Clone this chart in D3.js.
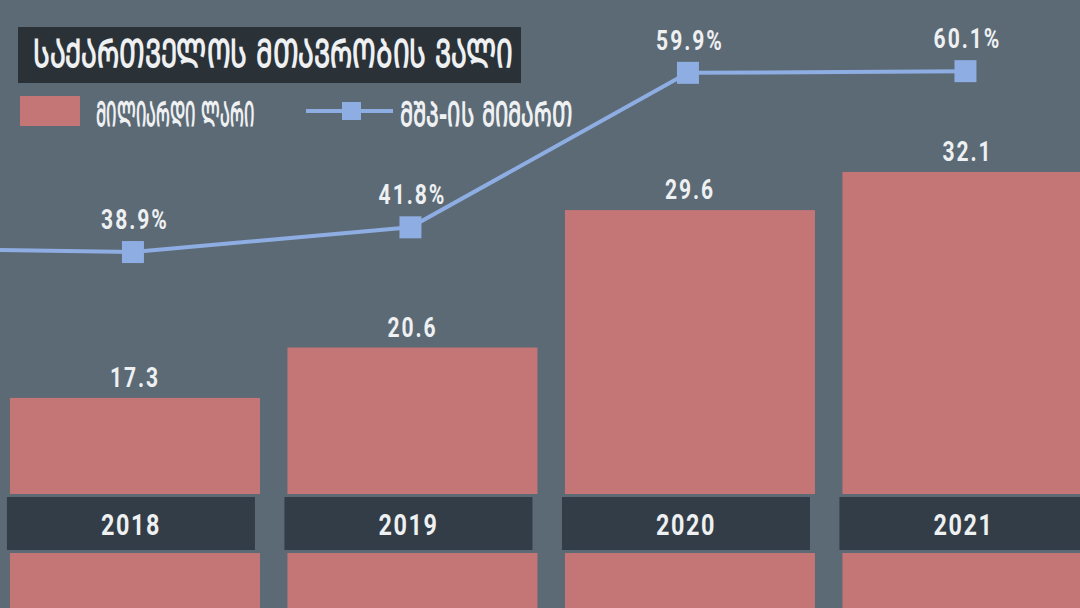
<!DOCTYPE html>
<html>
<head>
<meta charset="utf-8">
<script src="https://cdn.jsdelivr.net/npm/d3@7"></script>
<style>
  html, body { margin: 0; padding: 0; background: #5c6a76; }
  svg { display: block; }
</style>
</head>
<body>
<svg id="chart" width="1080" height="608"></svg>
<script>
// ---- data ----
const titleText = "საქართველოს მთავრობის ვალი";
const legendBars = "მილიარდი ლარი";
const legendLine = "მშპ-ის მიმართ";
const allYears = ["2017", "2018", "2019", "2020", "2021"];
const barYears = ["2018", "2019", "2020", "2021"];
const debtBn = [17.3, 20.6, 29.6, 32.1];
const lineYears = ["2017", "2018", "2019", "2020", "2021"];
const debtPctGdp = [39.4, 38.9, 41.8, 59.9, 60.1];
const labelledPctYears = ["2018", "2019", "2020", "2021"];

// ---- style ----
const C = {
  bg: "#5c6a76", bar: "#c47676", yearBox: "#323d47", titleBox: "#2a3238",
  line: "#8eade2", text: "#eef0f2"
};
const numFont = "Roboto, 'DejaVu Sans', sans-serif";
const geoFont = "'DejaVu Sans', sans-serif";
const toMtavruli = s => s.replace(/[\u10D0-\u10FA]/g, c => String.fromCharCode(c.charCodeAt(0) + 0xBC0));
const SX = 0.78; // horizontal condensing for the numeric labels

const W = 1080, H = 608;
const svg = d3.select("#chart");
svg.append("rect").attr("width", W).attr("height", H).attr("fill", C.bg);

const x = d3.scaleBand().domain(allYears).range([-281.3, 1106.2])
  .paddingInner(0.099).paddingOuter(0.0495);
const yBar = d3.scaleLinear().domain([0, 30]).range([662, 204]);
const yPct = d3.scaleLinear().domain([0, 60]).range([584, 72]);
const cx = d => x(d) + x.bandwidth() / 2;

const bars = barYears.map((yr, i) => ({ year: yr, value: debtBn[i] }));
const pts = lineYears.map((yr, i) => ({ year: yr, value: debtPctGdp[i] }));

function numLabel(sel, size, ls) {
  return sel.attr("text-anchor", "middle").attr("fill", C.text)
    .attr("font-family", numFont).attr("font-weight", 700)
    .attr("font-size", size).attr("letter-spacing", ls);
}

// condensed Georgian text: squeeze horizontally to a target width
function geoText(str, px, py, size, targetW) {
  const t = svg.append("text").attr("fill", C.text)
    .attr("font-family", geoFont).attr("font-size", size).attr("font-weight", "bold")
    .text(toMtavruli(str));
  const natural = t.node().getComputedTextLength() || targetW;
  t.attr("transform", `translate(${px},${py}) scale(${targetW / natural},1)`);
  return t;
}

// bars
svg.append("g").selectAll("rect").data(bars).join("rect")
  .attr("x", d => x(d.year)).attr("width", x.bandwidth())
  .attr("y", d => yBar(d.value)).attr("height", d => yBar(0) - yBar(d.value))
  .attr("fill", C.bar);

// bar value labels
numLabel(svg.append("g").selectAll("text").data(bars).join("text"), 27, 2.5)
  .attr("transform", d => `translate(${cx(d.year)},${yBar(d.value) - 11}) scale(${SX},1)`)
  .text(d => d3.format(".1f")(d.value));

// year strip
svg.append("rect").attr("x", 0).attr("width", W).attr("y", 494).attr("height", 59).attr("fill", C.bg);
const yearG = svg.append("g").selectAll("g").data(barYears).join("g");
yearG.append("rect")
  .attr("x", d => x(d) - 3).attr("width", x.bandwidth() - 2)
  .attr("y", 497).attr("height", 53).attr("fill", C.yearBox);
numLabel(yearG.append("text"), 30, 2)
  .attr("transform", d => `translate(${x(d) - 4 + x.bandwidth() / 2},535) scale(${SX},1)`)
  .text(d => d);

// line
const line = d3.line().x(d => cx(d.year) - 2).y(d => yPct(d.value));
svg.append("path").datum(pts).attr("d", line)
  .attr("fill", "none").attr("stroke", C.line).attr("stroke-width", 4);
const ms = 22;
const labelled = pts.filter(d => labelledPctYears.includes(d.year));
svg.append("g").selectAll("rect").data(labelled).join("rect")
  .attr("x", d => cx(d.year) - 2 - ms / 2).attr("y", d => yPct(d.value) - ms / 2)
  .attr("width", ms).attr("height", ms).attr("fill", C.line);
numLabel(svg.append("g").selectAll("text").data(labelled).join("text"), 27, 2.5)
  .attr("transform", d => `translate(${cx(d.year)},${yPct(d.value) - 23}) scale(${SX},1)`)
  .text(d => d3.format(".1f")(d.value) + "%");

// title
svg.append("rect").attr("x", 18).attr("y", 27).attr("width", 503).attr("height", 56).attr("fill", C.titleBox);
geoText(titleText, 33, 67, 39, 482);

// legend
svg.append("rect").attr("x", 20).attr("y", 96).attr("width", 60).attr("height", 30).attr("fill", C.bar);
geoText(legendBars, 96, 126, 34, 158);
svg.append("line").attr("x1", 306).attr("x2", 393).attr("y1", 111).attr("y2", 111)
  .attr("stroke", C.line).attr("stroke-width", 4);
svg.append("rect").attr("x", 342).attr("y", 102).attr("width", 19).attr("height", 18).attr("fill", C.line);
geoText(legendLine, 400, 126, 34, 174);
</script>
</body>
</html>
